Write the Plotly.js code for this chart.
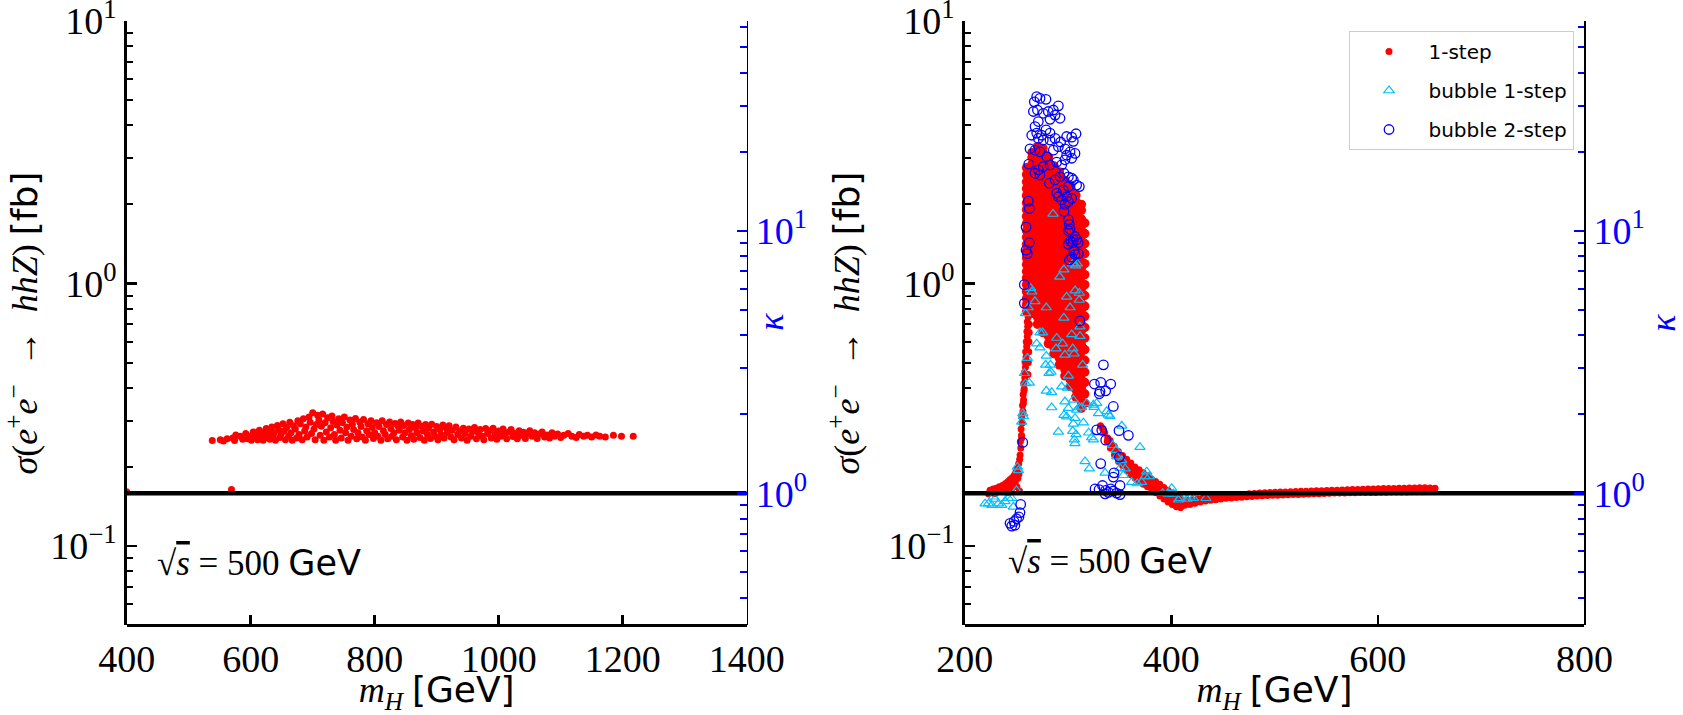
<!DOCTYPE html>
<html>
<head>
<meta charset="utf-8">
<script src="https://cdn.plot.ly/plotly-3.0.1.min.js"></script>
<style>
  html, body { margin: 0; padding: 0; background: #ffffff; }
  #chart { width: 1683px; height: 715px; }
</style>
</head>
<body>
<div id="chart"></div>
<script>
// Standard-model reference cross section sigma(e+e- -> hhZ) at sqrt(s) = 500 GeV [fb]
const sigmaSM = 0.1588;

const leftXRange = [400, 1400];
const rightXRange = [200, 800];
const sigmaRange = [0.05, 10];

const leftXTicks = [400, 600, 800, 1000, 1200, 1400];
const rightXTicks = [200, 400, 600, 800];
const sigmaTicks = [0.1, 1, 10];
const sigmaTickText = ['10<sup>\u22121</sup>', '10<sup>0</sup>', '10<sup>1</sup>'];
const sigmaMinor = [0.06, 0.07, 0.08, 0.09, 0.2, 0.3, 0.4, 0.5, 0.6, 0.7, 0.8, 0.9, 2, 3, 4, 5, 6, 7, 8, 9];
const kappaTicks = [1, 10];
const kappaTickText = ['10<sup>0</sup>', '10<sup>1</sup>'];
const kappaMinor = [0.4, 0.5, 0.6, 0.7, 0.8, 0.9, 2, 3, 4, 5, 6, 7, 8, 9, 20, 30, 40, 50, 60];

// Left panel: heavy H, 1-step transitions [m_H (GeV), sigma (fb)]
const leftOneStep = [
  [400,0.161],[569,0.164],
  [538,0.252],[551,0.254],[556,0.251],[562,0.256],[571,0.258],[574,0.252],[576,0.265],[583,0.262],[587,0.255],
  [592,0.268],[595,0.256],[598,0.262],[601,0.253],[604,0.272],[606,0.26],[609,0.266],[611,0.254],[614,0.276],[616,0.262],
  [618,0.27],[620,0.253],[622,0.258],[625,0.28],[627,0.266],[629,0.274],[631,0.255],[634,0.284],[636,0.262],[638,0.27],[640,0.253],
  [643,0.288],[645,0.278],[647,0.259],[649,0.267],[652,0.292],[654,0.274],[656,0.254],[658,0.283],[661,0.262],[663,0.296],
  [665,0.27],[667,0.253],[669,0.287],[672,0.279],[674,0.258],[676,0.3],[678,0.266],[680,0.292],[683,0.254],[685,0.305],
  [687,0.274],[689,0.284],[691,0.26],[694,0.31],[696,0.296],[698,0.268],[700,0.322],[702,0.279],[704,0.254],[706,0.29],[708,0.315],
  [710,0.302],[712,0.264],[714,0.286],[716,0.318],[718,0.253],[720,0.295],[722,0.272],[724,0.308],[727,0.26],[729,0.282],
  [731,0.313],[733,0.298],[735,0.266],[737,0.253],[739,0.289],[742,0.305],[744,0.276],[746,0.258],[748,0.295],[751,0.31],
  [753,0.27],[755,0.284],[757,0.253],[760,0.302],[762,0.262],[764,0.291],[766,0.278],[769,0.306],[771,0.256],[773,0.27],
  [776,0.296],[778,0.285],[780,0.26],[782,0.303],[785,0.253],[787,0.275],[789,0.292],[791,0.266],[794,0.3],[796,0.283],[798,0.257],[800,0.27],
  [803,0.295],[805,0.262],[807,0.285],[810,0.253],[812,0.3],[814,0.275],[817,0.266],[819,0.29],[821,0.256],[824,0.297],
  [826,0.28],[828,0.262],[831,0.27],[833,0.293],[835,0.254],[838,0.285],[840,0.276],[842,0.297],[845,0.26],[847,0.288],
  [849,0.27],[852,0.253],[854,0.294],[856,0.278],[859,0.263],[861,0.29],[863,0.255],[866,0.282],[868,0.27],[870,0.294],
  [873,0.259],[875,0.286],[878,0.274],[880,0.253],[882,0.29],[885,0.266],[887,0.281],[890,0.257],[892,0.291],[895,0.272],
  [897,0.262],[900,0.285],[902,0.254],[905,0.278],[907,0.266],[910,0.289],[912,0.258],[915,0.282],[917,0.27],[920,0.287],
  [923,0.26],[925,0.276],[928,0.254],
  [931,0.284],[934,0.266],[937,0.274],[940,0.258],[943,0.281],[946,0.268],[949,0.253],[952,0.279],[955,0.262],[958,0.273],
  [961,0.283],[964,0.256],[967,0.27],[970,0.278],[973,0.262],[976,0.254],[979,0.28],[982,0.268],[985,0.275],[988,0.258],
  [991,0.281],[994,0.266],[997,0.255],[1000,0.274],[1004,0.262],[1007,0.279],[1010,0.268],[1013,0.256],[1016,0.272],[1020,0.278],
  [1023,0.261],[1026,0.268],[1030,0.256],[1033,0.275],[1036,0.264],[1040,0.271],[1043,0.257],[1047,0.268],[1050,0.275],[1054,0.262],
  [1058,0.27],[1062,0.257],[1066,0.267],[1070,0.272],[1074,0.26],[1078,0.265],[1082,0.258],[1086,0.27],[1090,0.262],[1095,0.267],
  [1100,0.259],[1105,0.264],[1112,0.268],[1118,0.262],[1125,0.259],[1130,0.266],[1137,0.262],[1143,0.264],[1150,0.26],[1157,0.265],
  [1163,0.262],[1172,0.26],[1185,0.264],[1198,0.262],[1217,0.262]
];

// Right panel, 1-step: low plateau below the threshold
const rightOneStepLow = [
  [223,0.158],[224.5,0.163],[226,0.160],[227.5,0.165],[229,0.158],[230.5,0.166],[232,0.161],[233.5,0.168],[235,0.163],
  [236.5,0.170],[238,0.165],[239.5,0.173],[241,0.160],[242,0.176],[243,0.168],[244,0.179],[245,0.163],[246,0.182],
  [247,0.172],[248,0.186],[249,0.176],[249.5,0.191],[250.5,0.168],[251,0.197],[251.5,0.181],[252.3,0.206],[252.6,0.188],
  [253,0.162],[253.2,0.214]
];
// Right panel, 1-step: steep rise near m_H ~ 255 GeV
const rightOneStepRise = [
  [253.6,0.222],[254.3,0.236],[253.9,0.25],[255,0.264],[254.6,0.279],[255.7,0.294],[255.3,0.31],[256.4,0.326],[256,0.343],
  [257,0.36],[256.6,0.378],[257.6,0.397],[257.2,0.417],[258.2,0.437],[257.8,0.458],[258.8,0.48],[258.4,0.502],[259.4,0.525],
  [259,0.55],[260,0.575],[259.6,0.6],[260.6,0.628],[260.2,0.656],[261,0.686],[260.6,0.715],[261.4,0.745],[261.2,0.45],
  [261.6,0.5],[262,0.55],[262.2,0.6],[262.5,0.65],[262.6,0.7],[255.2,0.258],[256.8,0.35],[257.4,0.39]
];
// Right panel, 1-step: dense region 260-316 GeV, one column of sigma values per mass
const rightOneStepPeak = [
  [259.9, [0.78,0.83,0.875,0.93,0.99,1.05,1.11,1.18,1.25,1.33,1.41,1.50,1.59,1.69,1.80,1.91,2.03,2.16,2.30,2.44,2.60,2.76]],
  [265.2, [0.77,0.81,0.855,0.905,0.96,1.02,1.08,1.15,1.22,1.29,1.37,1.46,1.55,1.65,1.75,1.86,1.97,2.10,2.23,2.37,2.52,2.68,2.85,3.02,3.15]],
  [270.5, [0.70,0.745,0.79,0.84,0.89,0.945,1.0,1.065,1.13,1.20,1.28,1.36,1.44,1.53,1.63,1.73,1.84,1.95,2.08,2.21,2.35,2.50,2.66,2.83,3.0,3.18,3.32]],
  [275.8, [0.65,0.69,0.735,0.78,0.83,0.88,0.935,0.995,1.06,1.12,1.19,1.27,1.35,1.43,1.52,1.62,1.72,1.83,1.94,2.06,2.19,2.33,2.48,2.63,2.80,2.97,3.15,3.27]],
  [281.1, [0.59,0.63,0.67,0.71,0.755,0.80,0.85,0.905,0.96,1.02,1.085,1.15,1.23,1.30,1.39,1.47,1.57,1.67,1.77,1.88,2.0,2.12,2.26,2.40,2.55,2.71,2.88,3.03]],
  [286.4, [0.54,0.57,0.61,0.645,0.685,0.73,0.775,0.825,0.875,0.93,0.99,1.05,1.12,1.19,1.26,1.34,1.43,1.52,1.61,1.71,1.82,1.93,2.05,2.18,2.32,2.47,2.62,2.80]],
  [291.7, [0.49,0.52,0.55,0.585,0.62,0.66,0.705,0.75,0.795,0.845,0.90,0.955,1.015,1.08,1.15,1.22,1.30,1.38,1.47,1.56,1.66,1.76,1.87,1.99,2.12,2.25,2.39,2.55,2.66]],
  [297.0, [0.445,0.47,0.50,0.535,0.565,0.60,0.64,0.68,0.725,0.77,0.82,0.87,0.925,0.985,1.045,1.11,1.18,1.26,1.34,1.42,1.51,1.61,1.71,1.82,1.93,2.05,2.18,2.32,2.47]],
  [302.3, [0.405,0.43,0.46,0.49,0.52,0.55,0.585,0.625,0.66,0.705,0.75,0.795,0.845,0.90,0.955,1.015,1.08,1.15,1.22,1.30,1.38,1.47,1.56,1.66,1.76,1.87,1.99,2.12,2.25,2.36]],
  [307.6, [0.37,0.395,0.42,0.445,0.475,0.505,0.535,0.57,0.605,0.645,0.685,0.73,0.775,0.825,0.875,0.93,0.99,1.05,1.12,1.19,1.26,1.34,1.43,1.52,1.61,1.72,1.82,1.94,2.06,2.17]],
  [312.9, [0.335,0.355,0.38,0.40,0.43,0.455,0.485,0.515,0.55,0.585,0.62,0.66,0.70,0.745,0.79,0.84,0.895,0.95,1.01,1.075,1.14,1.21,1.29,1.37,1.46,1.55,1.65,1.76,1.9,2.0]],
  [316.2, [0.35,0.38,0.42,0.46,0.51,0.56,0.62,0.68,0.75,0.82,0.9,0.99,1.08,1.19,1.3,1.42,1.55,1.7]]
];
// Right panel, 1-step: falling branch 330-410 GeV
const rightOneStepFall = [
  [331.5,0.287],[333.5,0.28],[335.5,0.27],
  [338,0.250],[338.4,0.258],[341,0.236],[341.4,0.245],[340.8,0.252],[345,0.222],[345.4,0.231],[344.8,0.240],
  [349,0.210],[349.4,0.219],[348.8,0.229],[353,0.202],[353.4,0.211],[352.8,0.221],[357,0.194],[357.4,0.204],[356.8,0.214],
  [361,0.187],[361.4,0.196],[360.8,0.207],[365,0.181],[365.4,0.190],[364.8,0.200],[369,0.176],[369.4,0.185],[368.8,0.195],
  [373,0.172],[373.4,0.180],[372.8,0.190],[377,0.168],[377.4,0.176],[376.8,0.185],[381,0.164],[381.4,0.172],[380.8,0.180],
  [385,0.160],[385.4,0.167],[384.8,0.176],[389,0.155],[389.4,0.163],[388.8,0.172],[393,0.151],[393.4,0.159],[392.8,0.167],
  [397,0.147],[397.4,0.155],[396.8,0.163],[401,0.144],[401.4,0.151],[400.8,0.159],[405,0.141],[405.4,0.148],[404.8,0.155],
  [409,0.140],[409.4,0.146],[408.8,0.152]
];
// Right panel, 1-step: long flat tail towards large m_H
const rightOneStepTail = [
  [413,0.143],[418,0.144],[423,0.1455],[428,0.147],[433,0.1485],[438,0.1495],[443,0.150],[448,0.151],[453,0.152],[458,0.1525],
  [463,0.153],[468,0.1535],[473,0.154],[478,0.1545],[483,0.155],[488,0.1553],[493,0.1557],[498,0.156],[503,0.1562],[508,0.1565],
  [513,0.1567],[518,0.157],[523,0.1572],[528,0.1575],[533,0.1577],[538,0.158],[543,0.1582],[548,0.1585],[553,0.1587],[558,0.159],
  [563,0.159],[568,0.1592],[573,0.1594],[578,0.1596],[583,0.1597],[588,0.1598],[593,0.16],[598,0.16],[603,0.1602],[608,0.1603],
  [613,0.1604],[618,0.1605],[623,0.1606],[628,0.1607],[633,0.1608],[638,0.161],[643,0.161],[648,0.1612],[653,0.1612],
  [415.5,0.149],[420.5,0.150],[425.5,0.151],[430.5,0.152],[435.5,0.153],[440.5,0.154],[445.5,0.1545],[450.5,0.155],[455.5,0.1555],
  [460.5,0.156],[465.5,0.1565],[470.5,0.157],[475.5,0.158],[480.5,0.1585],[485.5,0.159],[490.5,0.1595],[495.5,0.16],[500.5,0.1602],
  [505.5,0.1605],[510.5,0.1607],[515.5,0.161],[520.5,0.1612],[525.5,0.1615],[530.5,0.1617],[535.5,0.162],[540.5,0.1622],[545.5,0.1625],
  [550.5,0.1627],[555.5,0.163],[560.5,0.1632],[565.5,0.1635],[570.5,0.1637],[575.5,0.164],[580.5,0.1642],[585.5,0.1645],[590.5,0.1647],
  [595.5,0.165],[600.5,0.1652],[605.5,0.1655],[610.5,0.1655],[615.5,0.1657],[620.5,0.166],[625.5,0.166],[630.5,0.1662],[635.5,0.1663],
  [640.5,0.1665],[645.5,0.1665],[650.5,0.1662],[655.4,0.1658]
];

// Right panel, bubble nucleation via 1-step
const bubbleOneStep = [
  [285.5,1.84],[296,1.13],[292,1.06],[304.6,1.19],[309,1.19],[307.3,1.17],[311,0.92],[306.9,0.94],[298.7,0.89],[310.9,0.865],
  [263.9,0.96],[265,0.93],[268,0.855],[261.5,0.81],[258.9,0.77],[279,0.81],[302,0.81],[296,0.74],[311.6,0.685],[272.9,0.65],
  [275.5,0.65],[289.1,0.62],[303.6,0.64],[311.6,0.63],[269.7,0.59],[272.9,0.57],[288.4,0.565],[294.8,0.59],[297,0.535],
  [304.6,0.565],[305.9,0.54],[260.7,0.52],[279,0.53],[278.4,0.49],[314.2,0.49],[281.6,0.455],[257.8,0.455],[300.4,0.445],
  [262.5,0.418],[256.8,0.312],[255.2,0.297],[252,0.194],[250.2,0.163],[229.4,0.151],[223,0.145],[219.7,0.145],[226.2,0.143],
  [232.6,0.145],[235.8,0.143],[239,0.148],[242.3,0.152],[245.5,0.152],[247.1,0.141],[227.8,0.154],[251,0.2],[256.3,0.32],
  [258.9,0.416],[283,0.49],[283.6,0.46],[279,0.39],[284.2,0.385],[284.2,0.337],[293.9,0.405],[299.4,0.4],[297.1,0.355],
  [305.2,0.36],[296.1,0.315],[300.4,0.335],[290.7,0.272],[298.7,0.311],[306.8,0.307],[311,0.337],[305.2,0.292],[304.6,0.274],
  [307.8,0.266],[306.2,0.254],[306.8,0.246],[314.9,0.295],[308.4,0.33],[313.2,0.338],[318.1,0.35],[324.6,0.345],[327.8,0.35],
  [325.3,0.338],[329.5,0.32],[337.5,0.326],[339.1,0.316],[340.7,0.312],[322.9,0.259],[324.6,0.254],[320,0.27],[352.1,0.287],
  [369.7,0.238],[316.5,0.21],[320.7,0.197],[343.4,0.242],[346.6,0.232],[347.2,0.219],[352,0.212],[355.3,0.197],[350.4,0.198],
  [335.9,0.19],[353.7,0.186],[361.6,0.175],[367,0.173],[371.3,0.175],[376.2,0.192],[374.6,0.184],[378.8,0.184],[391.7,0.159],
  [397.2,0.158],[400.4,0.166],[402,0.158],[408.5,0.152],[415,0.151],[421.4,0.152],[433.6,0.152],[406.9,0.15],[418.2,0.154]
];

// Right panel, bubble nucleation via 2-step
const bubbleTwoStep = [
  [269.7,5.15],[267.4,4.92],[272.9,5.07],[278.7,5.03],[266.5,4.52],[270.4,4.58],[276.1,4.45],[280.9,4.52],[285.8,4.58],
  [290.7,4.75],[287.5,4.38],[292.3,4.26],[282.6,4.22],[271.3,4.14],[268.1,3.96],[264.9,3.67],[269.7,3.74],[274.5,3.67],
  [278.7,3.85],[282.6,3.74],[287.5,3.57],[282.6,3.52],[276.1,3.52],[271.3,3.57],[292.9,3.46],[298.7,3.63],[303.6,3.61],
  [307.8,3.72],[305.2,3.48],[263.2,3.26],[268.1,3.22],[272.9,3.17],[279.4,3.04],[285.8,3.22],[290.7,3.32],[297.1,3.26],
  [298.7,3.08],[302,3.17],[306.8,3.13],[303.6,3.0],[297.1,2.96],[293.9,2.83],[289.1,2.9],[282.6,2.83],[276.1,2.79],
  [271.3,2.71],[268.1,2.63],[272.9,2.59],[281.9,2.41],[287.5,2.48],[292.3,2.55],[296.2,2.63],[300.4,2.55],[303.6,2.52],
  [305.2,2.48],[308.4,2.37],[311,2.34],[300.4,2.34],[295.5,2.27],[289.1,2.21],[290.7,2.14],[293.9,2.08],[297.1,2.0],
  [300.4,2.05],[303.6,2.11],[298.7,2.14],[261.6,2.06],[262.5,1.93],[296.2,1.88],[300.4,1.75],[301.3,1.68],[302,1.61],
  [300.4,1.59],[305.2,1.47],[302.6,1.45],[304.6,1.43],[306.8,1.51],[308.4,1.47],[310,1.43],[300.4,1.41],[305.9,1.34],
  [310,1.3],[306.8,1.29],[303.6,1.26],[301.3,1.23],[259.4,1.64],[262.5,1.43],[259.4,1.34],[260.6,1.3],[257.7,0.99],
  [257.7,0.84],[311.6,0.72],[262,2.85],
  [334.3,0.49],[325.6,0.414],[331.7,0.42],[341.4,0.414],[336.5,0.39],[331,0.388],[330.3,0.38],[343.9,0.34],[327.8,0.277],
  [332.7,0.276],[349.4,0.275],[358.5,0.264],[336.5,0.253],[349.8,0.218],[331.7,0.206],[344.6,0.19],[343.9,0.183],[333.4,0.17],
  [350.4,0.17],[326.2,0.165],[330.1,0.164],[336.5,0.163],[341.4,0.165],[343.9,0.162],[347.2,0.159],[350.4,0.157],[335.9,0.158],
  [339.1,0.16],[254.2,0.144],[253.5,0.134],[252.5,0.129],[250.2,0.127],[247.8,0.124],[243.9,0.122],[245.5,0.119],[248.6,0.12],
  [256.2,0.248]
];

const px = pts => pts.map(p => p[0]);
const py = pts => pts.map(p => p[1]);
const peakPts = [];
rightOneStepPeak.forEach(col => col[1].forEach(s => peakPts.push([col[0], s])));
const rightOneStep = [].concat(rightOneStepLow, rightOneStepRise, rightOneStepFall, rightOneStepTail);

const RED = '#ff0000';
const CYAN = '#00bfff';
const BLUE = '#0000ff';
const SERIF = 'Liberation Serif, DejaVu Serif, serif';
const SANS = 'DejaVu Sans, sans-serif';

const traces = [
  {x: px(leftOneStep), y: py(leftOneStep), xaxis: 'x', yaxis: 'y', type: 'scatter', mode: 'markers',
   marker: {color: RED, size: 7}, showlegend: false, hoverinfo: 'skip'},
  {x: px(rightOneStep), y: py(rightOneStep), xaxis: 'x2', yaxis: 'y2', type: 'scatter', mode: 'markers',
   name: '1-step', legendgroup: 'g1', marker: {color: RED, size: 7}},
  // densely populated 1-step region, same series
  {x: px(peakPts), y: py(peakPts), xaxis: 'x2', yaxis: 'y2', type: 'scatter', mode: 'markers',
   legendgroup: 'g1', showlegend: false, marker: {color: RED, size: 9.5}, hoverinfo: 'skip'},
  {x: px(bubbleOneStep), y: py(bubbleOneStep), xaxis: 'x2', yaxis: 'y2', type: 'scatter', mode: 'markers',
   name: 'bubble 1-step', legendgroup: 'g2',
   marker: {symbol: 'triangle-up-open', color: CYAN, size: 9, line: {width: 1.2, color: CYAN}}},
  {x: px(bubbleTwoStep), y: py(bubbleTwoStep), xaxis: 'x2', yaxis: 'y2', type: 'scatter', mode: 'markers',
   name: 'bubble 2-step', legendgroup: 'g3',
   marker: {symbol: 'circle-open', color: BLUE, size: 9.5, line: {width: 1.3, color: BLUE}}},
  // SM reference line sigma = sigma_SM (kappa = 1)
  {x: leftXRange, y: [sigmaSM, sigmaSM], xaxis: 'x', yaxis: 'y', type: 'scatter', mode: 'lines',
   line: {color: '#000000', width: 4.5}, showlegend: false, hoverinfo: 'skip'},
  {x: rightXRange, y: [sigmaSM, sigmaSM], xaxis: 'x2', yaxis: 'y2', type: 'scatter', mode: 'lines',
   line: {color: '#000000', width: 4.5}, showlegend: false, hoverinfo: 'skip'},
  // kappa = sigma / sigma_SM axes
  {x: [], y: [], xaxis: 'x', yaxis: 'y3', type: 'scatter', mode: 'markers', showlegend: false, hoverinfo: 'skip'},
  {x: [], y: [], xaxis: 'x2', yaxis: 'y4', type: 'scatter', mode: 'markers', showlegend: false, hoverinfo: 'skip'}
];

const W = 1683;
const leftDomain = [126.7 / W, 746.7 / W];
const rightDomain = [964.7 / W, 1584.4 / W];

const sigmaTitle = '<i>\u03c3</i>(<i>e</i><sup>+</sup><i>e</i><sup>\u2212</sup>\u2002\u2192\u2002<i>hhZ</i>) ' +
  '<span style="font-family:DejaVu Sans">[fb]</span>';
const massTitle = '<i>m</i><sub><i>H</i></sub> <span style="font-family:DejaVu Sans">[GeV]</span>';
const energyText = '\u221a<span style="text-decoration:overline"><i>s</i></span> = 500 ' +
  '<span style="font-family:DejaVu Sans">GeV</span>';
const kappaTitle = '<i>\u03ba</i>';

function xAxis(domain, range, ticks) {
  return {
    domain: domain, range: range, anchor: 'free', position: 0,
    tickmode: 'array', tickvals: ticks, ticktext: ticks.map(String),
    ticks: 'inside', ticklen: 9, tickwidth: 2.5, tickcolor: '#000',
    showline: true, linecolor: '#000', linewidth: 2.5, mirror: true,
    showgrid: false, zeroline: false, ticklabeloverflow: 'allow',
    tickfont: {family: SERIF, size: 38, color: '#000'},
    title: {text: massTitle, font: {family: SERIF, size: 36, color: '#000'}, standoff: 5}
  };
}
function sigmaAxis(anchor) {
  return {
    type: 'log', anchor: anchor, domain: [0, 1],
    range: [Math.log10(sigmaRange[0]), Math.log10(sigmaRange[1])],
    tickmode: 'array', tickvals: sigmaTicks, ticktext: sigmaTickText,
    ticks: 'inside', ticklen: 10, tickwidth: 2.5, tickcolor: '#000',
    minor: {tickmode: 'array', tickvals: sigmaMinor, ticks: 'inside', ticklen: 6.5, tickwidth: 2, tickcolor: '#000', showgrid: false},
    showline: true, linecolor: '#000', linewidth: 2.5,
    showgrid: false, zeroline: false, ticklabeloverflow: 'allow',
    tickfont: {family: SERIF, size: 38, color: '#000'},
    title: {text: sigmaTitle, font: {family: SERIF, size: 36, color: '#000'}, standoff: 18}
  };
}
function kappaAxis(overlay, anchor, title) {
  return {
    type: 'log', overlaying: overlay, anchor: anchor, side: 'right',
    range: [Math.log10(sigmaRange[0] / sigmaSM), Math.log10(sigmaRange[1] / sigmaSM)],
    tickmode: 'array', tickvals: kappaTicks, ticktext: kappaTickText,
    ticks: 'inside', ticklen: 10, tickwidth: 2.5, tickcolor: BLUE,
    minor: {tickmode: 'array', tickvals: kappaMinor, ticks: 'inside', ticklen: 6.5, tickwidth: 2, tickcolor: BLUE, showgrid: false},
    showline: true, linecolor: '#000', linewidth: 1.5,
    showgrid: false, zeroline: false, ticklabeloverflow: 'allow',
    tickfont: {family: SERIF, size: 38, color: BLUE},
    title: {text: title, font: {family: SERIF, size: 36, color: BLUE}, standoff: 30}
  };
}

const layout = {
  width: 1683, height: 715,
  margin: {l: 0, r: 0, t: 21, b: 90},
  paper_bgcolor: '#ffffff', plot_bgcolor: 'rgba(0,0,0,0)',
  font: {family: SERIF, color: '#000'},
  xaxis: xAxis(leftDomain, leftXRange, leftXTicks),
  xaxis2: xAxis(rightDomain, rightXRange, rightXTicks),
  yaxis: sigmaAxis('x'),
  yaxis2: sigmaAxis('x2'),
  yaxis3: kappaAxis('y', 'x', ''),
  yaxis4: kappaAxis('y2', 'x2', kappaTitle),
  showlegend: true,
  legend: {
    x: 1573.5 / W, xanchor: 'right', y: 1 - (31 - 21) / 604, yanchor: 'top',
    bgcolor: 'rgba(255,255,255,0.8)', bordercolor: '#cccccc', borderwidth: 1,
    font: {family: SANS, size: 20, color: '#000'},
    itemwidth: 69, tracegroupgap: 10, traceorder: 'grouped'
  },
  annotations: [
    {xref: 'x domain', yref: 'y domain', x: 0.046, y: 0.103, xanchor: 'left', yanchor: 'middle',
     text: energyText, showarrow: false, font: {family: SERIF, size: 35, color: '#000'}},
    {xref: 'x2 domain', yref: 'y2 domain', x: 0.066, y: 0.106, xanchor: 'left', yanchor: 'middle',
     text: energyText, showarrow: false, font: {family: SERIF, size: 35, color: '#000'}},
    // kappa label of the left panel, set against its right spine
    {xref: 'x domain', yref: 'y domain', x: 1.0, y: 0.5, xanchor: 'left', yanchor: 'middle', xshift: 2, yshift: 1,
     text: kappaTitle, textangle: -90, showarrow: false, font: {family: SERIF, size: 36, color: BLUE}}
  ]
};

Plotly.newPlot('chart', traces, layout, {staticPlot: true, displayModeBar: false});
</script>
</body>
</html>
